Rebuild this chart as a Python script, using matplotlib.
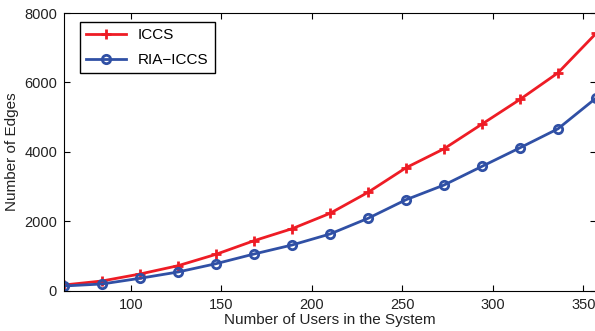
import matplotlib.pyplot as plt
import numpy as np

plt.rcParams['font.family'] = ['Liberation Sans', 'DejaVu Sans']

# donnees
users = [63, 84, 105, 126, 147, 168, 189, 210, 231, 252, 273, 294, 315, 336, 357]
edges_iccs = [167, 282, 483, 722, 1050, 1442, 1787, 2230, 2835, 3543, 4089, 4800, 5511, 6276, 7410]
edges_ria = [138, 196, 360, 541, 780, 1059, 1318, 1635, 2086, 2622, 3045, 3583, 4118, 4665, 5548]

fig = plt.figure(figsize=(5.95, 3.31), dpi=100)
ax = fig.add_axes([0.1076, 0.1215, 0.894, 0.8392])

ax.plot(users, edges_iccs, '-+', color='#ee1c25', lw=2, ms=7, mew=2, label='ICCS')
ax.plot(users, edges_ria, '-o', color='#3050a5', lw=2, ms=6, mew=2,
        markerfacecolor='none', label='RIA\u2212ICCS')

ax.set_xlim(63, 357)
ax.set_ylim(0, 8000)
ax.set_xticks([100, 150, 200, 250, 300, 350])
ax.set_yticks([0, 2000, 4000, 6000, 8000])
ax.tick_params(direction='in', labelsize=10.5, length=4, top=True, right=True, pad=5,
               labelcolor='#222222')
ax.set_xlabel('Number of Users in the System', fontsize=11, labelpad=1, color='#222222')
ax.set_ylabel('Number of Edges', fontsize=11, labelpad=4, color='#222222')

leg = ax.legend(loc='upper left', fontsize=11, handlelength=2.6, fancybox=False,
                edgecolor='black', framealpha=1, borderpad=0.4, labelspacing=0.72,
                borderaxespad=0, bbox_to_anchor=(0.03, 0.968))
leg.get_frame().set_linewidth(1)

plt.savefig('out.png', dpi=100)
